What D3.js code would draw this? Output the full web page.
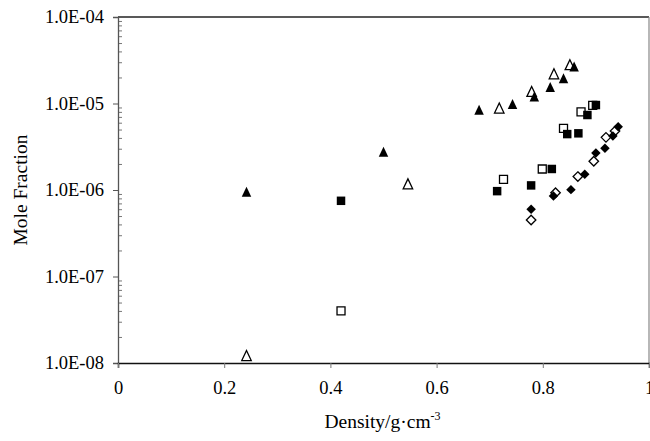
<!DOCTYPE html>
<html>
<head>
<meta charset="utf-8">
<script src="https://cdn.jsdelivr.net/npm/d3@7"></script>
<style>
  body { margin: 0; background: #fff; }
  svg { display: block; font-family: "Liberation Serif", "Times New Roman", serif; }
</style>
</head>
<body>
<svg id="chart" width="650" height="441"></svg>
<script>
// density (g/cm3) and mole fraction
const triFilledX = [0.242, 0.500, 0.680, 0.743, 0.784, 0.814, 0.839, 0.859];
const triFilledY = [9.5e-7, 2.75e-6, 8.4e-6, 9.8e-6, 1.2e-5, 1.54e-5, 1.95e-5, 2.66e-5];
const triOpenX = [0.242, 0.546, 0.718, 0.779, 0.821, 0.851];
const triOpenY = [1.21e-8, 1.17e-6, 8.8e-6, 1.37e-5, 2.19e-5, 2.79e-5];
const sqFilledX = [0.420, 0.714, 0.778, 0.817, 0.846, 0.867, 0.884, 0.900];
const sqFilledY = [7.5e-7, 9.7e-7, 1.13e-6, 1.75e-6, 4.43e-6, 4.52e-6, 7.36e-6, 9.6e-6];
const sqOpenX = [0.420, 0.726, 0.799, 0.839, 0.872, 0.894];
const sqOpenY = [4.0e-8, 1.33e-6, 1.75e-6, 5.16e-6, 8.0e-6, 9.5e-6];
const diaFilledX = [0.778, 0.820, 0.853, 0.879, 0.900, 0.917, 0.932, 0.942];
const diaFilledY = [5.98e-7, 8.5e-7, 1.01e-6, 1.52e-6, 2.68e-6, 3.03e-6, 4.2e-6, 5.4e-6];
const diaOpenX = [0.778, 0.824, 0.866, 0.896, 0.919, 0.936];
const diaOpenY = [4.5e-7, 9.3e-7, 1.43e-6, 2.15e-6, 4.06e-6, 4.8e-6];

const xTicks = [0, 0.2, 0.4, 0.6, 0.8, 1];
const xTickLabels = ['0', '0.2', '0.4', '0.6', '0.8', '1'];
const yTicks = [1e-8, 1e-7, 1e-6, 1e-5, 1e-4];
const yTickLabels = ['1.0E-08', '1.0E-07', '1.0E-06', '1.0E-05', '1.0E-04'];

const margin = {left: 118, right: 1, top: 17, bottom: 78};
const width = 650, height = 441;

const svg = d3.select('#chart');
const x = d3.scaleLinear().domain([0, 1]).range([margin.left, width - margin.right]);
const y = d3.scaleLog().domain([1e-8, 1e-4]).range([height - margin.bottom, margin.top]);

// plot frame (top and right)
svg.append('line')
  .attr('x1', x(0)).attr('x2', x(1))
  .attr('y1', y(1e-4)).attr('y2', y(1e-4))
  .attr('stroke', '#222').attr('stroke-width', 1.5);
svg.append('line')
  .attr('x1', x(1)).attr('x2', x(1))
  .attr('y1', y(1e-4)).attr('y2', y(1e-8))
  .attr('stroke', '#888').attr('stroke-width', 1.2);

// minor log ticks, pointing inward
const minor = [];
yTicks.slice(0, -1).forEach(t => {
  for (let k = 2; k <= 9; k++) minor.push(t * k);
});
svg.append('g')
  .attr('transform', `translate(${x(0)},0)`)
  .call(d3.axisRight(y).tickValues(minor).tickSize(4).tickFormat(''))
  .call(g => g.select('.domain').remove())
  .call(g => g.selectAll('line').attr('stroke', '#777'));

const yAxis = svg.append('g')
  .attr('transform', `translate(${x(0)},0)`)
  .call(d3.axisLeft(y).tickValues(yTicks).tickSize(5).tickPadding(9)
    .tickFormat((d, i) => yTickLabels[i]));
yAxis.select('.domain').attr('stroke', '#555').attr('stroke-width', 1.3);
yAxis.selectAll('line').attr('stroke', '#555');
yAxis.selectAll('text')
  .attr('font-family', '"Liberation Serif", serif')
  .attr('font-size', 18.5).attr('fill', '#000');

const xAxis = svg.append('g')
  .attr('transform', `translate(0,${y(1e-8)})`)
  .call(d3.axisBottom(x).tickValues(xTicks).tickSize(5).tickPadding(13)
    .tickFormat((d, i) => xTickLabels[i]));
xAxis.select('.domain').attr('stroke', '#111').attr('stroke-width', 1.5);
xAxis.selectAll('line').attr('stroke', '#777');
xAxis.selectAll('text')
  .attr('font-family', '"Liberation Serif", serif')
  .attr('font-size', 18.5).attr('fill', '#000');

// axis titles
svg.append('text')
  .attr('transform', `translate(27,${(y(1e-4) + y(1e-8)) / 2}) rotate(-90)`)
  .attr('text-anchor', 'middle')
  .attr('font-size', 19.5)
  .text('Mole Fraction');

const xt = svg.append('text')
  .attr('x', (x(0) + x(1)) / 2 - 1)
  .attr('y', 428)
  .attr('text-anchor', 'middle')
  .attr('font-size', 19.5);
xt.append('tspan').text('Density/g\u00b7cm');
xt.append('tspan').attr('dy', -8).attr('font-size', 12).text('-3');

// marker shapes
const triangle = {
  draw(ctx, size) {
    const h = Math.sqrt(size);
    ctx.moveTo(0, -h / 2 - 0.5);
    ctx.lineTo(h / 2, h / 2);
    ctx.lineTo(-h / 2, h / 2);
    ctx.closePath();
  }
};
const diamond = {
  draw(ctx, size) {
    const r = Math.sqrt(size) / 2;
    ctx.moveTo(0, -r);
    ctx.lineTo(r, 0);
    ctx.lineTo(0, r);
    ctx.lineTo(-r, 0);
    ctx.closePath();
  }
};

const series = [
  {xs: triOpenX, ys: triOpenY, type: triangle, size: 90, filled: false},
  {xs: triFilledX, ys: triFilledY, type: triangle, size: 90, filled: true},
  {xs: sqOpenX, ys: sqOpenY, type: d3.symbolSquare, size: 64, filled: false},
  {xs: sqFilledX, ys: sqFilledY, type: d3.symbolSquare, size: 72, filled: true},
  {xs: diaOpenX, ys: diaOpenY, type: diamond, size: 90, filled: false},
  {xs: diaFilledX, ys: diaFilledY, type: diamond, size: 90, filled: true}
];

series.forEach(s => {
  const pts = s.xs.map((d, i) => ({x: d, y: s.ys[i]}));
  svg.append('g')
    .selectAll('path')
    .data(pts)
    .join('path')
    .attr('transform', d => `translate(${x(d.x)},${y(d.y)})`)
    .attr('d', d3.symbol().type(s.type).size(s.size))
    .attr('fill', s.filled ? '#000' : '#fff')
    .attr('stroke', s.filled ? 'none' : '#000')
    .attr('stroke-width', 1.3);
});
</script>
</body>
</html>
